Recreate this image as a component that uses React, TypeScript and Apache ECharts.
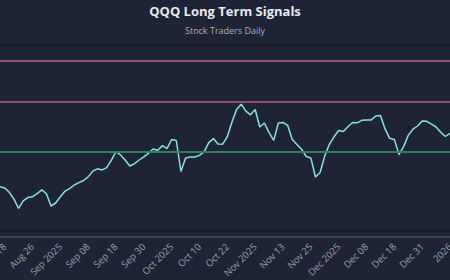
import React, { useEffect, useRef } from "react";
import * as echarts from "echarts";

const prices: number[] = [
  550.3, 549.1, 544.7, 537.8, 528.7, 536.1, 539.4, 540.3, 543.4, 547.1,
  543.2, 531.0, 534.0, 540.3, 545.8, 548.3, 552.0, 554.4, 556.5, 560.1,
  565.8, 568.2, 567.1, 569.4, 576.9, 585.3, 582.0, 576.7, 571.0, 573.4,
  577.0, 580.1, 583.7, 588.0, 586.7, 591.4, 588.4, 597.5, 596.5, 565.5,
  578.9, 580.1, 580.0, 581.6, 585.1, 594.4, 598.4, 592.9, 592.8, 600.3,
  615.0, 627.6, 632.8, 625.9, 622.2, 627.5, 610.0, 614.0, 604.4, 596.6,
  614.0, 614.5, 611.7, 597.6, 592.5, 587.8, 580.5, 579.1, 560.0, 564.5,
  581.1, 592.7, 600.2, 606.5, 605.5, 610.2, 614.5, 614.2, 616.7, 616.9,
  617.1, 621.0, 621.5, 608.1, 598.7, 597.6, 582.5, 590.4, 601.6, 607.8,
  611.0, 616.0, 615.7, 612.8, 610.0, 604.7, 600.5, 603.7,
];

const tickLabels: string[] = [
  "Aug 18", "Aug 26", "Sep 2025", "Sep 08", "Sep 18", "Sep 30", "Oct 2025",
  "Oct 10", "Oct 22", "Nov 2025", "Nov 13", "Nov 25", "Dec 2025", "Dec 08",
  "Dec 18", "Dec 31", "2026",
];
const labelStart = 1;
const labelStep = 6;

const resistanceLevels: number[] = [676, 635];
const supportLevels: number[] = [585];

const categories: string[] = prices.map((_, i) =>
  (i - labelStart) % labelStep === 0 && i >= labelStart
    ? tickLabels[(i - labelStart) / labelStep] ?? ""
    : ""
);

export default function App() {
  const ref = useRef<HTMLDivElement>(null);
  useEffect(() => {
    if (!ref.current) return;
    const chart = echarts.init(ref.current, undefined, { renderer: "svg" });
    chart.setOption({
      animation: false,
      backgroundColor: "#1e2433",
      title: {
        text: "QQQ Long Term Signals",
        subtext: "Stock Traders Daily",
        left: "center",
        top: 4,
        padding: 0,
        itemGap: 9,
        textStyle: {
          fontFamily: "Open Sans",
          fontSize: 13,
          fontWeight: "bold",
          color: "#e6e9ef",
        },
        subtextStyle: {
          fontFamily: "Open Sans",
          fontSize: 9,
          color: "#aab1bd",
        },
      },
      graphic: [
        {
          type: "rect",
          shape: { x: 0, y: 44, width: 450, height: 2 },
          style: { fill: "#161b26" },
          silent: true,
        },
        {
          type: "rect",
          shape: { x: 0, y: 230, width: 450, height: 2 },
          style: { fill: "#181d28" },
          silent: true,
        },
      ],
      grid: {
        left: 0,
        right: 0,
        top: 37,
        bottom: 43,
        containLabel: false,
        outerBoundsMode: "none",
      },
      xAxis: {
        type: "category",
        data: categories,
        boundaryGap: false,
        axisLine: { show: true, lineStyle: { color: "#3c4456", width: 2 } },
        axisTick: { show: false },
        axisLabel: {
          interval: 0,
          rotate: 45,
          margin: 8,
          fontSize: 9.5,
          fontFamily: "Open Sans",
          color: "#98a1b0",
          hideOverlap: false,
        },
        splitLine: { show: false },
      },
      yAxis: {
        type: "value",
        min: 500,
        max: 700,
        show: false,
        splitLine: { show: false },
      },
      series: [
        {
          type: "line",
          data: prices,
          symbol: "none",
          lineStyle: { color: "#84e4dc", width: 1.5 },
          markLine: {
            silent: true,
            symbol: "none",
            label: { show: false },
            data: [
              ...resistanceLevels.map((v) => ({
                yAxis: v,
                lineStyle: { color: "#944a6c", width: 2, type: "solid" },
              })),
              ...supportLevels.map((v) => ({
                yAxis: v,
                lineStyle: { color: "#347f60", width: 2, type: "solid" },
              })),
            ],
          },
          z: 3,
        },
      ],
    });
    return () => chart.dispose();
  }, []);
  return (
    <div
      ref={ref}
      style={{ position: "absolute", left: 0, top: 0, width: 450, height: 280 }}
    />
  );
}
